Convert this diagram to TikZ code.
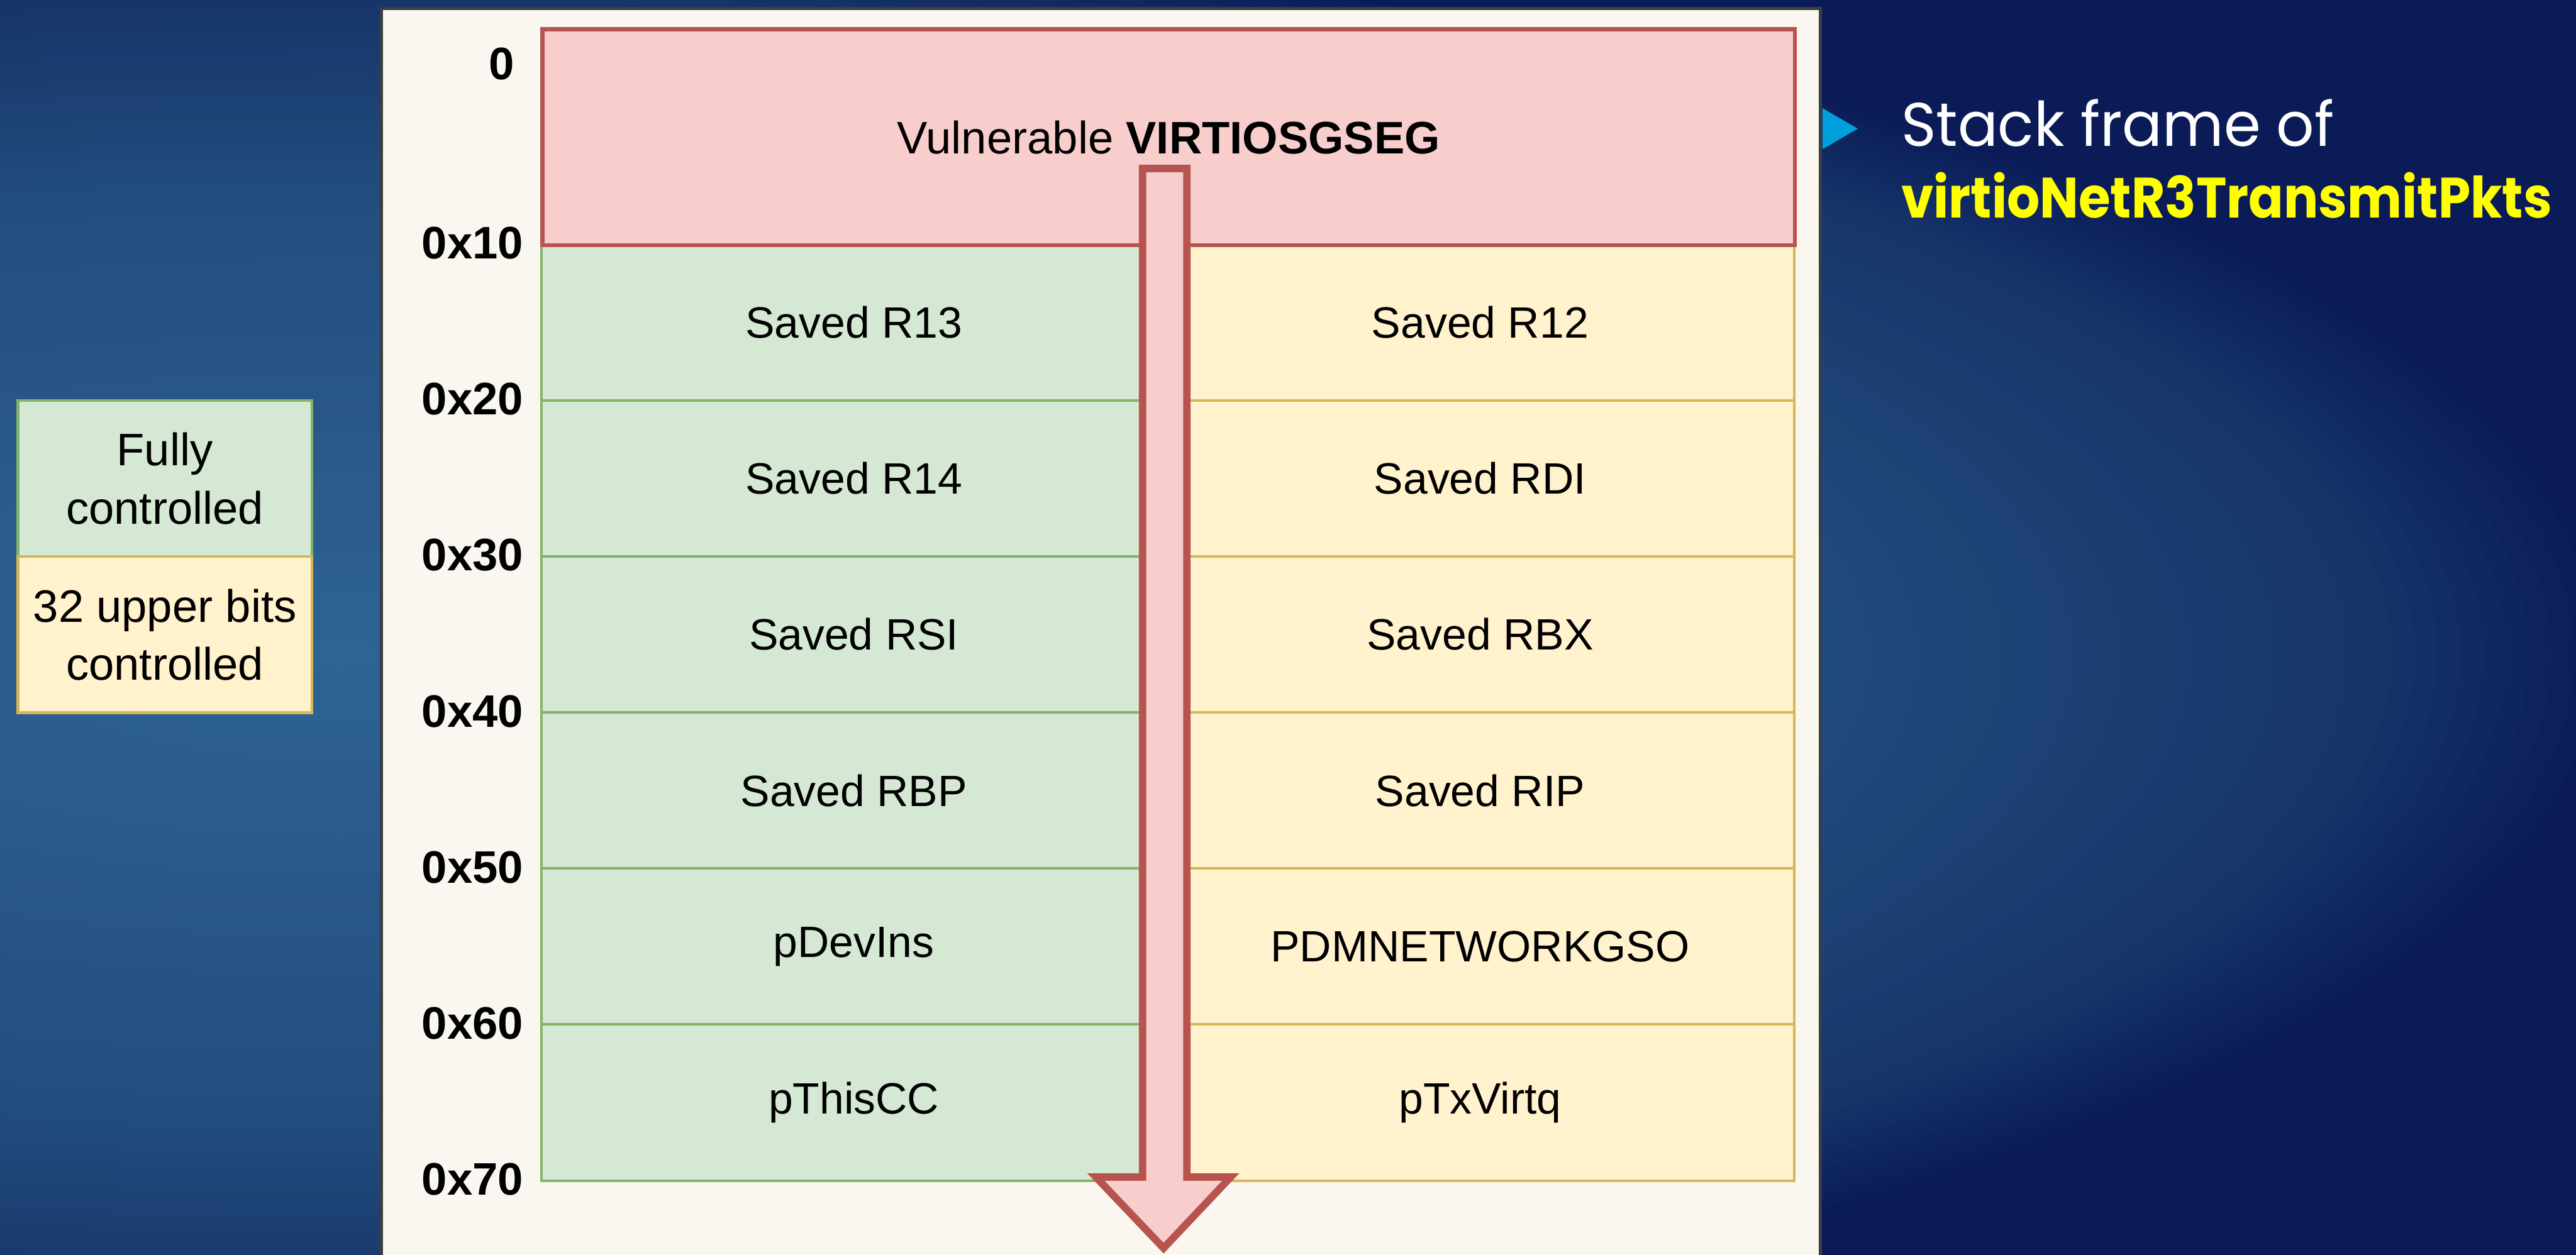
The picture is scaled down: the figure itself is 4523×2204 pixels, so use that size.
\documentclass[tikz,border=0pt]{standalone}
\usepackage{fontspec}
\setmainfont{Liberation Sans}
\newfontfamily\titlefont{Poppins}
\usetikzlibrary{calc}

% palette
\definecolor{navy}{RGB}{10,27,88}
\definecolor{glowA}{RGB}{46,100,148}
\definecolor{glowB}{RGB}{34,76,126}
\definecolor{glowC}{RGB}{22,52,104}
\definecolor{paper}{RGB}{249,247,239}
\definecolor{paperedge}{RGB}{58,62,66}
\definecolor{redfill}{HTML}{F8CECC}
\definecolor{redline}{HTML}{B85450}
\definecolor{greenfill}{HTML}{D5E8D4}
\definecolor{greenline}{HTML}{82B366}
\definecolor{yellowfill}{HTML}{FFF2CC}
\definecolor{yellowline}{HTML}{D6B656}
\definecolor{bullet}{RGB}{0,158,219}
\definecolor{hilite}{RGB}{255,255,0}

\tikzset{
  cellbase/.style={anchor=north west, minimum width=1096, minimum height=274,
    inner sep=0, line width=4.5, font=\fontsize{77}{92}\selectfont},
  cellgreen/.style={cellbase, draw=greenline, fill=greenfill},
  cellyellow/.style={cellbase, draw=yellowline, fill=yellowfill, minimum width=1103},
  offset/.style={anchor=east, inner sep=0, font=\fontsize{80}{96}\selectfont\bfseries},
  legendbox/.style={anchor=north west, minimum width=516, minimum height=274,
    inner sep=0, line width=5, align=center, font=\fontsize{80}{102}\selectfont},
}

\begin{document}
\begin{tikzpicture}[x=1pt, y=-1pt]
  \useasboundingbox (0,0) rectangle (4523,2204);

  % slide background: elliptical glow fading to navy, built from rings
  \begin{scope}
    \clip (0,0) rectangle (4523,2204);
    \fill[navy] (0,0) rectangle (4523,2204);
    \foreach \i in {100,99,...,1}{%
      \pgfmathsetmacro{\f}{\i/100}%
      \ifdim \f pt>0.9pt
        \pgfmathsetmacro{\t}{(\f-0.9)*1000}\colorlet{ring}{navy!\t!glowC}%
      \else\ifdim \f pt>0.64pt
        \pgfmathsetmacro{\t}{(\f-0.64)/0.26*100}\colorlet{ring}{glowC!\t!glowB}%
      \else
        \pgfmathsetmacro{\t}{\f/0.64*100}\colorlet{ring}{glowB!\t!glowA}%
      \fi\fi
      \fill[ring] (600,1150) ellipse [x radius=\f*4000, y radius=\f*1300];
    }
  \end{scope}

  % diagram sheet
  \draw[paperedge, line width=6, fill=paper] (670,15) rectangle (3196,2260);

  % memory cells
  \node[cellgreen]  (r13) at (949,427)  {Saved R13};
  \node[cellyellow] (r12) at (2045,427) {Saved R12};
  \node[cellgreen]  (r14) at (949,701)  {Saved R14};
  \node[cellyellow] (rdi) at (2045,701) {Saved RDI};
  \node[cellgreen]  (rsi) at (949,975)  {Saved RSI};
  \node[cellyellow] (rbx) at (2045,975) {Saved RBX};
  \node[cellgreen]  (rbp) at (949,1249) {Saved RBP};
  \node[cellyellow] (rip) at (2045,1249) {Saved RIP};
  \node[cellgreen]  (dev) at (949,1523) {pDevIns};
  \node[cellyellow] (gso) at (2045,1523) {PDMNETWORKGSO};
  \node[cellgreen]  (tcc) at (949,1797) {pThisCC};
  \node[cellyellow] (txq) at (2045,1797) {pTxVirtq};

  % vulnerable scatter/gather segment
  \node[anchor=north west, minimum width=2199, minimum height=379, inner sep=0,
        draw=redline, fill=redfill, line width=7,
        font=\fontsize{80}{96}\selectfont] (seg) at (949,48)
        {Vulnerable \textbf{VIRTIOSGSEG}};

  % offsets
  \node[offset] (o00) at (903,112)  {0};
  \node[offset] (o10) at (919,427)  {0x10};
  \node[offset] (o20) at (919,701)  {0x20};
  \node[offset] (o30) at (919,975)  {0x30};
  \node[offset] (o40) at (919,1249) {0x40};
  \node[offset] (o50) at (919,1523) {0x50};
  \node[offset] (o60) at (919,1797) {0x60};
  \node[offset] (o70) at (919,2071) {0x70};

  % overflow direction
  \draw[redline, fill=redfill, line width=13, line join=miter]
    (2006,296) -- (2084,296) -- (2084,2067) -- (2161,2067)
    -- (2043,2192) -- (1924,2067) -- (2006,2067) -- cycle;

  % legend
  \node[legendbox, draw=greenline, fill=greenfill] (lg) at (29,701)
    {Fully\\controlled};
  \node[legendbox, draw=yellowline, fill=yellowfill] (ly) at (29,975)
    {32 upper bits\\controlled};

  % caption
  \fill[bullet] (3200,190) -- (3262,226) -- (3200,262) -- cycle;
  \node[anchor=base west, inner sep=0, text=white,
        font=\titlefont\fontsize{108}{130}\selectfont] (cap1) at (3338,257)
        {\scalebox{0.967}[1]{Stack frame of}};
  \node[anchor=base west, inner sep=0, text=hilite,
        font=\titlefont\bfseries\fontsize{100}{130}\selectfont] (cap2) at (3338,383)
        {\scalebox{0.906}[1]{virtioNetR3TransmitPkts}};
\end{tikzpicture}
\end{document}
